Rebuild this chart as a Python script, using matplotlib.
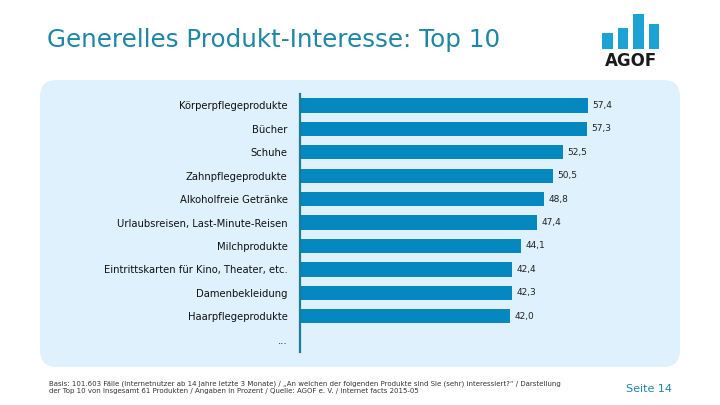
import numpy as np
import matplotlib
matplotlib.use('Agg')
import matplotlib.pyplot as plt
from matplotlib.patches import FancyBboxPatch, Rectangle

# data
categories = ['Körperpflegeprodukte', 'Bücher', 'Schuhe', 'Zahnpflegeprodukte',
              'Alkoholfreie Getränke', 'Urlaubsreisen, Last-Minute-Reisen',
              'Milchprodukte', 'Eintrittskarten für Kino, Theater, etc.',
              'Damenbekleidung', 'Haarpflegeprodukte']
values = [57.4, 57.3, 52.5, 50.5, 48.8, 47.4, 44.1, 42.4, 42.3, 42.0]
value_labels = ['57,4', '57,3', '52,5', '50,5', '48,8', '47,4', '44,1', '42,4', '42,3', '42,0']

title = 'Generelles Produkt-Interesse: Top 10'
note_1 = ('Basis: 101.603 Fälle (Internetnutzer ab 14 Jahre letzte 3 Monate) / „An welchen der '
          'folgenden Produkte sind Sie (sehr) interessiert?“ / Darstellung')
note_2 = ('der Top 10 von insgesamt 61 Produkten / Angaben in Prozent / Quelle: AGOF e. V. / '
          'internet facts 2015-05')
page = 'Seite 14'

bar_col = '#0587BF'
title_col = '#1E86A6'
panel_col = '#DEF1FC'

W, H = 720, 405
fig = plt.figure(figsize=(W / 100, H / 100), dpi=100)

# background layer in pixel coords
bg = fig.add_axes([0, 0, 1, 1])
bg.set_xlim(0, W)
bg.set_ylim(H, 0)
bg.axis('off')

bg.add_patch(FancyBboxPatch((40, 80), 640, 287, boxstyle='round,pad=0,rounding_size=17',
                            fc=panel_col, ec='none'))
bg.text(47, 47, title, fontsize=17.7, color=title_col, va='baseline', ha='left')

# logo
for x0, top in [(602, 33), (617.5, 28), (633, 14), (648.5, 24)]:
    bg.add_patch(Rectangle((x0, top), 10.8, 49.3 - top, fc='#1BA3D6', ec='none'))
bg.text(631, 66.5, 'AGOF', fontsize=12, fontweight='bold', color='#1a1a1a',
        ha='center', va='baseline')

bg.text(49, 383.5, note_1, fontsize=5.0, color='#333333', va='center', ha='left')
bg.text(49, 391.5, note_2, fontsize=5.0, color='#333333', va='center', ha='left')
bg.text(672, 388.5, page, fontsize=8, color=title_col, va='center', ha='right')

# bar chart
left = 300 / W
top_px, bot_px = 94, 352
ax = fig.add_axes([left, 1 - bot_px / H, 350 / W, (bot_px - top_px) / H])
ax.patch.set_visible(False)

y = np.arange(len(categories))
ax.barh(y, values, height=0.615, color=bar_col)
for yi, v, lab in zip(y, values, value_labels):
    ax.text(v + 0.85, yi, lab, fontsize=6.5, color='#222222', va='center', ha='left')

ax.set_xlim(0, 350 / 5.01)
ax.set_ylim(10.53, -0.49)
ax.set_yticks(list(y) + [10])
ax.set_yticklabels(categories + ['...'], fontsize=7.2, color='#111111')
ax.tick_params(axis='y', length=0, pad=9)
ax.set_xticks([])
for s in ['top', 'right', 'bottom']:
    ax.spines[s].set_visible(False)
ax.spines['left'].set_color('#1D7C98')
ax.spines['left'].set_linewidth(1.6)

fig.savefig('out.png', dpi=100)
